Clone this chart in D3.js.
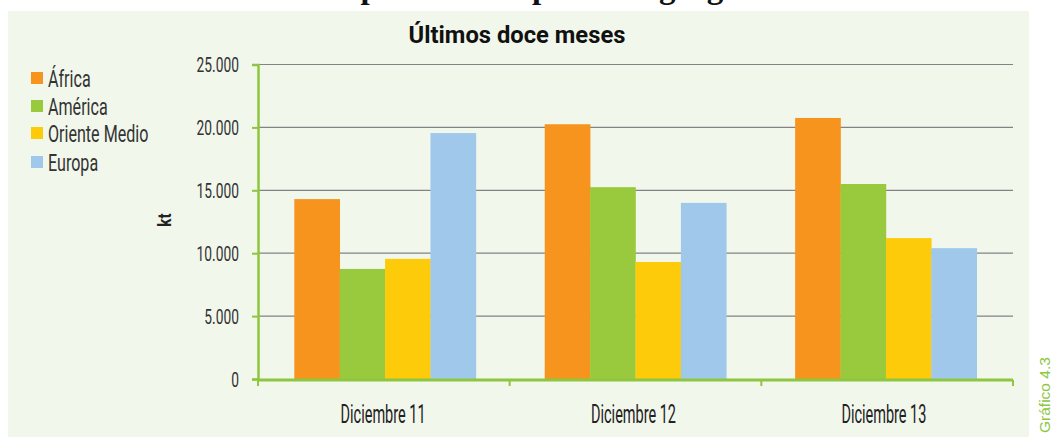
<!DOCTYPE html>
<html><head><meta charset="utf-8">
<script src="https://cdn.jsdelivr.net/npm/d3@7"></script>
<style>
html,body{margin:0;padding:0;background:#fff;}
svg{display:block;}
</style></head>
<body>
<script>
const categories = ["Diciembre 11", "Diciembre 12", "Diciembre 13"];
const seriesNames = ["África", "América", "Oriente Medio", "Europa"];
const africa = [14300, 20250, 20750];
const america = [8750, 15250, 15500];
const orienteMedio = [9550, 9300, 11200];
const europa = [19550, 14000, 10400];
const yTicks = [0, 5000, 10000, 15000, 20000, 25000];
const yTickLabels = ["0", "5.000", "10.000", "15.000", "20.000", "25.000"];
const colors = ["#f7941d", "#99c93c", "#fdcb0a", "#9fc8ea"];

const W = 1058, H = 437;
const COND = "Roboto, 'DejaVu Sans', sans-serif";
const svg = d3.select("body").append("svg").attr("width", W).attr("height", H);

// horizontally narrow a text selection (mimics a condensed display face)
function narrow(sel, sx) {
  sel.each(function () {
    const t = d3.select(this);
    const xv = +(t.attr("x") || 0);
    t.attr("x", xv / sx).attr("transform", `scale(${sx},1)`);
  });
}

// panel
svg.append("rect").attr("x", 8).attr("y", 11).attr("width", 1021).attr("height", H - 11).attr("fill", "#f2f7ec");

// clipped main title
svg.append("text").attr("x", 563).attr("y", -2).attr("text-anchor", "middle")
  .attr("font-family", "Liberation Serif, Times New Roman, serif").attr("font-weight", "bold")
  .attr("font-size", 33).attr("fill", "#111").text("Importaciones por área geográfica");

const sub = svg.append("text").attr("x", 517).attr("y", 43).attr("text-anchor", "middle")
  .attr("font-family", COND).attr("font-weight", "bold").attr("font-size", 24).attr("fill", "#111")
  .text("Últimos doce meses");
narrow(sub, 0.99);

const x0 = 258, x1 = 1013, yTop = 64.5, yBot = 379;
const x = d3.scaleBand().domain(categories).range([x0, x1]).paddingInner(0.275).paddingOuter(0.145);
const xs = d3.scaleBand().domain(seriesNames).range([0, x.bandwidth()]);
const y = d3.scaleLinear().domain([0, 25000]).range([yBot, yTop]);

// gridlines
svg.append("g").selectAll("line").data(yTicks.filter(d => d > 0)).join("line")
  .attr("x1", x0).attr("x2", x1).attr("y1", d => y(d)).attr("y2", d => y(d))
  .attr("stroke", "#838383").attr("stroke-width", 1.2);

// bars
const series = [africa, america, orienteMedio, europa];
const data = [];
categories.forEach((c, i) => seriesNames.forEach((s, j) => data.push({c, s, v: series[j][i], col: colors[j]})));
svg.append("g").selectAll("rect").data(data).join("rect")
  .attr("x", d => x(d.c) + xs(d.s)).attr("width", xs.bandwidth() + 0.3)
  .attr("y", d => y(d.v)).attr("height", d => yBot - y(d.v)).attr("fill", d => d.col);

// y axis
const yAxis = d3.axisLeft(y).tickValues(yTicks).tickFormat((d, i) => yTickLabels[i]).tickSize(6).tickPadding(13);
const gy = svg.append("g").attr("transform", `translate(${x0},0)`).call(yAxis);
gy.select(".domain").attr("stroke", "#8dc63f").attr("stroke-width", 2.5);
gy.selectAll(".tick line").attr("stroke", "#8dc63f").attr("stroke-width", 2);
gy.attr("font-family", null).attr("font-size", null);
const yt = gy.selectAll(".tick text").attr("font-family", COND).attr("font-size", 20).attr("fill", "#333").attr("dy", "0.36em");
narrow(yt, 0.69);

// x axis
const xb = d3.scaleLinear().domain([0, 3]).range([x0, x1]);
const gx = svg.append("g").attr("transform", `translate(0,${yBot + 1})`);
gx.append("line").attr("x1", x0).attr("x2", x1).attr("stroke", "#8dc63f").attr("stroke-width", 3);
gx.selectAll(".tk").data([0, 1, 2, 3]).join("line").attr("class", "tk")
  .attr("x1", d => xb(d)).attr("x2", d => xb(d)).attr("y1", 0).attr("y2", 6)
  .attr("stroke", "#8dc63f").attr("stroke-width", 2);
const xt = gx.selectAll("text").data(categories).join("text")
  .attr("x", d => x(d) + x.bandwidth() / 2 - 2).attr("y", 43).attr("text-anchor", "middle")
  .attr("font-family", COND).attr("font-size", 25).attr("fill", "#222").text(d => d);
narrow(xt, 0.58);

// y label
svg.append("text").attr("transform", "translate(171,220) rotate(-90) scale(0.8,1)").attr("text-anchor", "middle")
  .attr("font-family", COND).attr("font-weight", "bold").attr("font-size", 19).attr("fill", "#222").text("kt");

// legend
const lg = svg.append("g").attr("transform", "translate(31,0)");
const ly = [78, 106, 133, 162];
seriesNames.forEach((s, i) => {
  lg.append("rect").attr("x", 0).attr("y", ly[i] - 6).attr("width", 12).attr("height", 12).attr("fill", colors[i]);
  const t = lg.append("text").attr("x", 17).attr("y", ly[i] + 9).attr("font-family", COND)
    .attr("font-size", 23).attr("fill", "#333").text(s);
  narrow(t, 0.70);
});

// side note
svg.append("text").attr("transform", "translate(1050,433) rotate(-90)").attr("text-anchor", "start")
  .attr("font-family", "Liberation Sans, Arial, sans-serif").attr("font-size", 15.5).attr("fill", "#8dc63f").text("Gráfico 4.3");
</script>
</body></html>
